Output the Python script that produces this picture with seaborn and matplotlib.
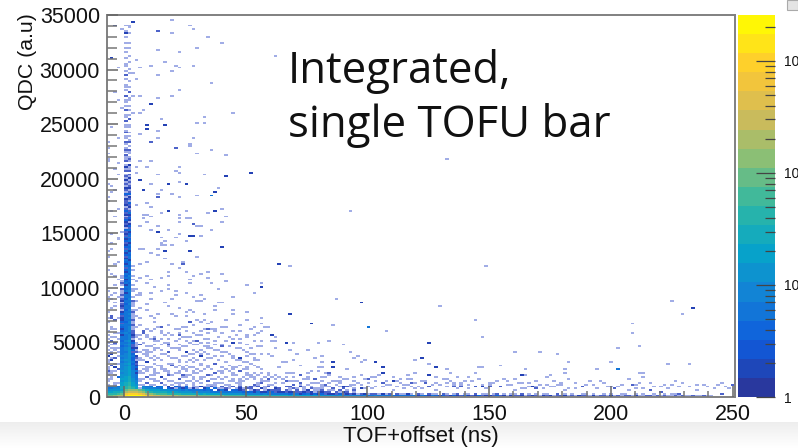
import numpy as np
import seaborn as sns
import matplotlib.pyplot as plt
from matplotlib.colors import LinearSegmentedColormap, ListedColormap, LogNorm
from matplotlib.cm import ScalarMappable
from matplotlib.patches import Rectangle
from matplotlib.ticker import MultipleLocator, NullFormatter

XLABEL = "TOF+offset (ns)"
YLABEL = "QDC (a.u)"
NOTE_1 = "Integrated,"
NOTE_2 = "single TOFU bar"
X_TICKS = [0, 50, 100, 150, 200, 250]
Y_TICKS = [0, 5000, 10000, 15000, 20000, 25000, 30000, 35000]
CB_LABELS = ["1", "10", "10", "10"]

# Peak columns: counts per QDC bin (175 wide, starting at QDC 700), bottom to top
col_m = [30,24,22,18,15,16,12,12,10,11,9,10,8,9,7,8,6,8,7,5,6,7,4,6,5,4,5,6,3,5,4,3,4,5,2,4,3,3,2,4,3,1,2,3,2,1,3,2,1,2,1,1,2,0,1,2,1,0,1,1]
col_a = [45,38,30,26,22,18,16,14,13,15,11,12,10,11,9,12,8,9,10,7,9,8,7,8,
         7,8,6,7,5,8,6,7,5,6,7,4,6,5,7,5,6,4,5,6,4,7,5,4,6,5,3,5,4,
         5,3,6,4,3,5,4,6,3,4,2,5,3,4,5,3,2,4,3,5,2,4,3,2,4,3,5,2,
         3,2,4,1,3,2,3,4,2,1,3,2,4,2,1,3,2,2,3,1,2,4,1,2,3,1,2,1,3,
         1,2,1,0,2,1,3,1,0,2,1,1,2,0,1,2,1,0,1,2,0,1,1,0,2,1,0,1,
         1,0,2,0,1,1,0,0,2,0,1,0,1,1,0,2,0,0,1,0,1,1,0,0,1,0,2,0,1,0,0,1,1,0,0,1,0,0,1,0,1,0,0,1,0,0,1,0,0,1,0,0,1,0,0,0,0]
col_b = [70,56,44,36,30,26,24,20,22,18,19,16,15,17,14,13,15,12,13,11,12,13,10,11,
         9,11,8,10,9,7,10,8,9,7,8,10,6,8,7,9,6,8,7,5,8,6,7,8,5,7,6,8,5,
         7,6,4,7,5,6,8,4,6,5,7,4,5,6,3,6,5,4,7,3,5,4,6,3,5,4,2,5,
         4,3,5,2,4,3,1,3,4,2,3,5,2,1,3,2,4,1,2,3,1,4,2,1,3,2,1,2,
         1,3,1,2,0,2,1,1,3,0,1,2,1,0,1,1,2,0,1,0,2,1,0,1,0,1,0,
         0,1,1,0,0,2,0,1,0,0,1,0,1,0,0,1,1,0,0,2,0,0,1,0,0,1,0,0,0,1,0,1,0,0,0,1,0,0,1,0,0,0,1,0,0,1,0,0,0,0,1,0,0,0,1,0,0]
col_c = [40,30,22,17,13,11,10,9,7,8,6,5,6,4,5,3,4,5,3,2,4,3,1,2,3,2,1,2,3,1,2,1,1,2,0,1,2,1,1,0,2,1,0,1,1,0,1,0,1,0,0,1,1,0,1,0,0,1,0,1]
col_d = [22,16,12,9,7,6,5,4,3,4,3,2,3,2,2,1,2,1,0,2,1,1,0,1]

# Bottom QDC rows: counts per TOF bin (1.466 ns wide, starting at -7.33 ns)
row_0 = [90,110,130,170,240,1500,2200,2500,2400,2100,1500,800,420,300,260,230,210,190,180,170,150,160,140,130,120,130,110,100,110,95,90,85,80,72,70,65,62,55,52,48,50,44,40,38,35,36,30,28,30,26,24,22,24,20,18,19,16,15,16,14,13,12,14,11,10,11,9,10,8,
         9,8,7,8,6,7,8,6,5,7,6,5,4,6,5,4,5,6,3,5,4,3,5,4,3,4,2,3,4,3,2,4,3,2,3,4,2,3,3,2,4,2,3,1,3,2,2,3,1,2,3,2,1,3,2,3,1,2,2,3,1,2,1,3,2,2,1,3,1,2,2,1,3,1,2,1,2,2,1,3,1,1,2,2,1,2,1,2,1,1,2,1,2,1,1,2,1,1,2,1,1]
row_1 = [35,40,48,60,85,600,1000,1100,950,750,480,240,120,85,70,60,55,46,44,38,36,32,34,28,26,24,22,24,20,19,16,18,15,14,13,14,11,12,10,9,10,8,9,7,8,6,7,5,6,7,5,4,6,5,3,4,5,3,4,3,4,2,3,3,2,4,2,3,2,
         3,1,2,3,1,2,2,1,3,1,2,0,2,1,1,3,1,0,2,1,0,2,1,1,0,2,1,0,1,2,0,1,1,0,2,0,1,1,0,1,2,0,1,0,1,1,0,2,0,1,0,1,0,1,1,0,0,2,0,1,0,1,0,0,1,1,0,1,0,0,1,0,1,0,0,1,1,0,0,1,0,1,0,0,1,0,0,1,0,1,1]
row_2 = [18,20,24,30,36,190,320,340,280,210,130,70,40,34,30,26,24,20,18,16,15,12,13,11,10,9,10,8,9,7,6,7,6,6,6,5,5,5,4,4,4,3,5,3,3,4,4,2,3,3,2,3,3,2,2,3,2,3,1,2,3,2,2,0,2,1,3,2,0,1]
row_3 = [9,12,14,15,20,90,140,160,130,95,60,34,22,20,16,14,12,11,9,10,8,7,8,6,6,5,6,4,5,4,0,3,5,3,0,4,3,3,2,0,1,3,2,0,1,3,2,1,2,0,2,1,0,2,0,1,2,0,1,1,2,0,1,1,0,2,0,1,0,1]
row_4 = [6,7,9,8,0,0,0,0,0,0,12,9,8,7,6,5,0,4,3,0,5,3,4,0,3,1,0,3,5,0,3,1,0,2,1,0,1,3,0,1,2,0,0,2,1,0,0,2,1,0,0,1,2,0,0,1,0,2,0,0,1,0,0,1,0,0,2,0,0,1]
row_5 = [4,6,5,7,0,0,0,0,0,0,8,6,5,0,3,4,0,2,0,4,2,0,3,0,1,0,2,0,1,2,0,0,1,0,1,0,0,2,0,0,1,0,2,0,0,1,0,1,0,0,0,1,0,0,2,0,0,1,0,0,1,0,0,0,0,1,0,0,1,0]

# Isolated cells by QDC row: TOF values that fall in that row (single counts)
band_qdc = [12090,11635,11270,10870,10500,10170,9745,9410,9130,8890,8585,8190,7820,7520,7210,6850,
            6450,6270,6080,5900,5720,5530,5350,5170,4990,4800,4620,4440,4250,4070,3890,3700,3520,3340,
            3160,2970,2790,2610,2430,2240,2060,1880,1690,1510,1330,1140,960,780]
band_tof = [
 [-3.7,-2.3,3.2,5.9,8.9,20.3,24.4],
 [3.9,22.1,25.8,-6.4],
 [-5,17.6,19,31.3,34,39.8],
 [5.9,8.9,10.7,15.5,28.6,34,-3.7],
 [4.5,27.2,35.4,41.6,-2.3],
 [-3.7,9.3,12.8,17.6,27.2,51.2,56.7],
 [-6.4,4.5,5.9,15.8,19,21.7,38.2,53.9],
 [-5,-3.7,-2.3,5.9,10.7,21.7,25.8,44.3],
 [-6.4,4.5,20.3,29.2,32],
 [-6.4,-5,3.2,4.5,10.7,31.3,33.4,40.2],
 [-3.7,3.9,9.3,16.2,29.9,39.5],
 [-5,-3.7,4.5,6.6,19,23,37,45],
 [-6.4,8.9,14.1,25.1,26.5,27.9,36.8,45,51.2],
 [-5,3.9,6.6,10.7,20.3,21.7,32.6],
 [-6.4,-5,-3.7,-2.3,4.5,12.8,25.1,41.6,56.7],
 [-6.4,-3.7,3.9,12,30,31.3,32.6,34,35.4,51.2],
 [-5,6,9,14,18,24,28,38,42,48,54],
 [-3.7,5,11,21,26,33,40,47,52],
 [-6.4,-5,4.2,7.5,13,16,23,29,31,36,44],
 [-2.3,8.5,10,19,25,34,37.5,50],
 [-6.4,-3.7,4.5,6,15,17.5,22,27,32,41,46,55],
 [-5,5.3,11.5,13,20,24,30,35,43,53],
 [-6.4,-3.7,3.6,7,9,18,26,28,33,39,48,51],
 [-5,-2.3,4.8,12,16,21,23,31,37,44,56],
 [-6.4,-5,6,8,14,19,25,29,35,42,47,54],
 [-3.7,3.9,10,13,17,22,27,34,38,45,50],
 [-6.4,-5,-2.3,5,7,11,15,20,24,30,33,40,52],
 [-3.7,4.2,9,12.5,18,23,26,31,36,43,48,55],
 [-6.4,-5,6.5,8,14,16,21,25,28,34,39,46,51],
 [-5,-3.7,4,10,13,19,22,27,30,37,42,49,54],
 [-6.4,-2.3,5,7.5,11,15,18,24,29,33,35,41,45,52],
 [-6.4,-5,-3.7,4.5,9,12.5,17,20,26,31,38,43,47,50,56],
 [-5,-2.3,3.8,6,10,14,19,23,28,32,36,40,46,53],
 [-6.4,-3.7,5,8,11.5,16,21,25,30,34,39,44,49,55],
 [-6.4,-5,-2.3,4.2,7,9.5,13,18,22,27,29,33,37,42,48,51,54],
 [-5,-3.7,5.5,8.5,12,15,20,24,26,31,35,38,45,47,52],
 [-6.4,-5,-2.3,4.5,6.5,10,14,17,21,23,28,32,36,41,43,50,53,56],
 [-6.4,-3.7,5,7.5,11,13,16,19,25,27,30,34,39,44,46,49,55],
 [-5,-2.3,4,6,9,12,15,18,22,24,29,33,37,40,42,47,51,54],
 [-6.4,-3.7,5.5,8,10,13,17,20,23,26,28,31,35,38,43,45,48,52,56],
 [-6.4,-5,-2.3,4.5,7,11,14,16,19,21,25,30,32,36,41,44,50,53,55,59,62,66,70,73,85],
 [-5,-3.7,6,9,12,15,18,22,24,27,29,34,37,39,46,49,51,54,58,60,64,72,78,81,84,88,97,99,102,105,110,116,118],
 [-6.4,-2.3,5,8,10,13,16,20,23,26,31,33,35,40,42,47,52,56,57,61,65,67,71,74,76,79,83,86,90,94,101,104,108,113,128,133,137,143,156,174],
 [-6.4,-5,4.5,6.5,11,14,17,21,25,28,30,36,38,43,45,48,50,55,58,62,69,75,80,87,92,95,100,107,112,117,122,131,136,140,146,153,160,166,176,182,192,208],
 [-3.7,5.5,7.5,9,12,15,19,22,24,27,32,34,37,41,44,46,49,53,56,60,63,68,70,77,82,85,89,93,96,103,106,111,115,119,124,129,134,142,150,157,162,169,178,186,195,212,226,236,245],
 [-6.4,-2.3,5,6.5,10,13,16,18,20,23,26,29,33,35,39,42,47,51,54,57,59,65,67,72,78,81,88,91,98,101,109,114,121,127,132,135,139,144,148,152,159,164,168,173,180,190,197,203,210,216,222,230,240,244],
 [-5,-3.7,4.5,8,11,14,17,21,25,28,31,36,38,40,43,45,48,50,52,55,58,61,64,66,70,74,76,80,84,87,92,95,99,104,108,112,117,120,125,130,133,138,141,147,151,155,158,163,167,171,175,179,183,188,193,199,205,214,220,225,232,238,248],
 [-6.4,-5,6,7,9,12,15,19,22,24,27,30,32,34,37,41,44,46,49,53,56,60,62,63,68,71,73,75,79,83,86,90,94,97,100,102,106,110,115,118,123,126,128,137,145,149,154,161,165,170,172,177,181,185,189,194,200,207,211,218,224,228,235,242,247],
]
# The QDC bin each listed cell sits in, relative to its row (read as a repeating offset)
row_offsets = [0, 175, -175, 0, 175]

# Sparse cells well above the bottom rows (single counts)
far_tof = [3.3,-3.7,-1,2,0.4,13.2,14.5,20.2,27.2,28.5,20.2,34.1,39.8,14.5,23,29.9,62.4,-5.1,4.7,17.4,6.2,10.4,21.5,23,28.5,-2.2,3.4,20.2,14.5,4.7,35.5,23,-3.7,3.4,6.2,20.2,14.5,-2.2,10.4,7.5,-1,3.4,6.2,44,32.8,15.9,8.9,8.9,17.4,29.9,32.8,-5.1,13.2,6.2,-2.2,14.5,28.5,10.4,27.2,21.5,
           10.4,21.5,27.2,29.9,35.5,42.5,6.2,11.7,4.8,8.9,22.9,21.5,22.9,4.8,14.6,32.8,41.3,52.6,6.2,22.9,11.7,18.8,25.7,38.4,7.6,16,13.2,37,20.2,29.9,35.5,14.6,13.2,22.9,8.9,4.8,11.7,39.8,25.7,16,18.8,37,34.2,7.6,8.9,22.9,10.4,22.9,25.7,26.8,41.3,7.6,8.9,22.9,28.6,28.6,39.8,6.2,13.2,29.9,31.3,11.7,13.2,18.8,35.5,22.9,21.5,26.5,27.9,31.3,16,25.7,16,17.4,16,17.4,20.2,39.8,6.2,7.6,13.2,17.4,27.2,10.4,14.6,29.9,17.4,
           -6.4,-6.4,-6.4,-6.4,-6.4,-2.3,-3.7,-2.3,-6.4,-5.1,-3.7,-5.1,-6.4,-6.4,-2.3,-5.1,-3.7,-0.9,-2.3,-2.3,-5.1,-5.1,-5.1,-6.4,-6.4,
           132,93,63.8,67.9,56.7,87.5,97.4,67.9,76.3,56.7,86.2,58,59.4,56.7,100.3,107.3,60.9,62.3,60.9,62.3,66.6,69.3,79.2,84.8,90.4,56.7,62.3,67.9,74.9,93.2,59.4,70.7,60.9,81.9,95.9,94.5,77.7,69.3,66.6,98.8,103,97.4,81.9,86.2,65,72.2,63.7,86.2,79.2,81.9,76.3,79.2,91.8,105.9,105.9,119.8,119.8,84.8,83.3,67.9,69.3,74.9,
           149.2,129.6,143.7,125.5,147.9,160.5,170.4,178.7,183,122.6,125.5,128.4,132.5,146.5,147.9,154.9,164.6,181.6,133.9,125.5,145.1,141,163.2,164.6,174.6,181.6,
           225.1,233.7,229.4,208.3,208.3,212.5,202.8,199.9,223.9,232.3,194.3,202.8,211.2,213.9,213.9]
far_qdc = [34440,34080,33770,33830,33315,33560,33440,34530,33990,33770,33410,33070,32490,31790,31610,31940,31270,31120,30940,30660,30270,30360,30360,30170,30360,30170,29650,29780,29410,29100,28830,28130,27980,27580,27580,27640,27430,27210,26820,26360,26450,26060,26060,25900,25630,25540,24990,24620,24990,25080,25140,24740,24400,24070,23680,23680,23770,23340,23100,22920,
           23330,22870,23080,22350,22620,22170,21590,21530,21070,21130,21130,20700,20520,20520,20310,20310,20220,20610,19880,19760,19575,19510,19510,19240,18900,18930,18720,18780,18600,18510,18480,18290,18230,18290,17780,17530,17410,17230,17100,16920,16980,16980,16830,16770,16710,16710,16530,16430,16430,16430,16460,16280,16070,15950,15920,15760,16000,15700,15700,15580,15580,15300,15150,15300,15370,14940,14660,14790,14790,14700,14540,14240,14090,14180,13840,13840,13840,13690,13540,13540,13540,13320,13320,13170,13110,12800,12620,
           23330,22770,22320,21770,21560,21470,20860,20310,19575,19330,18960,18810,18200,17990,17200,16980,16620,15060,14630,14450,14910,14020,13630,13420,12870,
           21700,17040,12210,12000,10050,9070,8620,7640,6820,6720,6540,6390,6330,6110,6420,6110,5690,5470,5200,5140,4990,4900,4900,5140,4830,4560,4440,4220,4320,4070,3920,4010,3770,3800,3770,3610,3520,3400,3310,3430,3310,3160,3250,3160,3160,2970,2700,2790,2790,2700,2420,2420,2520,2790,2210,3400,2180,2180,2240,2180,2180,2180,
           11940,8310,7060,4990,5470,4130,4130,3950,3250,3520,3000,2790,2610,2730,2670,2970,2610,2550,2240,2060,2150,1910,2060,2060,1940,2180,
           8770,8220,7580,6660,5840,4710,4440,3250,3060,3000,2610,2610,2120,2180,1780]

# Cells with an extra count or two (the darker marks)
dark_tof = [-3.7,0.4,3.3,-5.1,10.4,8.9,8.9,17.4,41.3,52.6,6.2,18.8,25.7,7.6,37,35.5,35.5,18.8,37,26.5,27.9,13.2,39.8,17.4,27.2,56.7,63.8,67.9,76.3,97.4,100.3,100.3,60.9,66.6,103,86.2,86.2,105.9,105.9,233.7,202.8,202.8,208.3,125.5,125.5,128.4,122.6,124,138,150.6,167.6,163.2,24.4,-5,27,15,35,8,22,12,30,44,18,40,5,25,32,47,10,20,-3.7,-5,-6.4,-5,-3.7,-6.4,-2.3,24,60,66,72,83,90,97,110,118,135,148,170,201,216,221,228,246,250.5]
dark_qdc = [34080,33315,34440,31120,26820,24990,24620,24990,20220,20610,19880,19510,19510,18900,18780,18480,18480,16980,16980,14790,14790,15150,13690,13320,13320,10050,12210,7640,6820,8620,6420,6420,5690,4990,3310,3160,2790,2790,2210,8220,2610,2610,1140,4990,2060,2790,3520,1360,960,960,960,2060,12090,7210,6850,6450,6270,5900,5720,5350,5170,4990,4800,4620,4440,4070,3700,3520,3160,2970,4990,3890,3700,3340,2790,2430,1880,2060,1690,1510,1330,1140,960,780,1510,1330,960,960,780,780,600,420,240,240,1050,1050]

BIN_EDGES_X = (-7.33, 250.69)
N_X, N_Y = 176, 200
QW, TW = 175.0, 258.02 / 176

tof, qdc, cnt = [], [], []
def add(xs, ys, ws):
    tof.extend(xs); qdc.extend(ys); cnt.extend(ws)

for bin_center, col in zip([-TW/2, TW/2, 3*TW/2, 5*TW/2, 7*TW/2], [col_m, col_a, col_b, col_c, col_d]):
    add([bin_center]*len(col), [700 + QW*(i+0.5) for i in range(len(col))], col)
for k, row in enumerate([row_0, row_1, row_2, row_3, row_4, row_5]):
    add([BIN_EDGES_X[0] + TW*(i+0.5) for i in range(len(row))], [QW*(k+0.5)]*len(row), row)
for q, xs in zip(band_qdc, band_tof):
    ys = [q + row_offsets[i % len(row_offsets)] for i in range(len(xs))]
    add(xs, ys, [1]*len(xs))
n = min(len(far_tof), len(far_qdc))
add(far_tof[:n], far_qdc[:n], [1]*n)
n = min(len(dark_tof), len(dark_qdc))
add(dark_tof[:n], dark_qdc[:n], [2]*n)

# ROOT "bird" palette in 20 discrete levels
bird_stops = [(0.16,0.22,0.62),(0.0592,0.3599,0.8684),(0.0780,0.5041,0.8385),(0.0232,0.6419,0.7914),
              (0.1802,0.7178,0.6425),(0.5301,0.7492,0.4662),(0.8186,0.7328,0.3499),(0.9956,0.7862,0.1968),(1.0,0.97,0.02)]
bird = LinearSegmentedColormap.from_list("bird", bird_stops, N=20)
levels = bird(np.linspace(0, 1, 20))
cbar_cmap = ListedColormap(levels)
mesh_levels = levels.copy()
mesh_levels[0] = (0.63, 0.68, 0.90, 1)
mesh_levels[1] = (0.30, 0.39, 0.79, 1)
mesh_levels[2] = (0.14, 0.26, 0.71, 1)
mesh_cmap = ListedColormap(mesh_levels)
norm = LogNorm(1, 2570)

sns.set_theme(style="white")
plt.rcParams["font.family"] = ["Liberation Sans", "DejaVu Sans"]
W, H = 798, 448
fig = plt.figure(figsize=(W/100, H/100), dpi=100)

bg = fig.add_axes([0, 0, 1, 26/H], zorder=-1)
bg.imshow(np.linspace(1, 0, 30).reshape(-1, 1), aspect="auto", cmap=LinearSegmentedColormap.from_list("g", ["#ffffff", "#ededed"]), vmin=0, vmax=1)
bg.axis("off")

ax = fig.add_axes([107/W, 1-397/H, 628/W, 382/H])
ax.patch.set_alpha(0)
sns.histplot(x=tof, y=qdc, weights=cnt, bins=(N_X, N_Y), binrange=(BIN_EDGES_X, (0, 35000)), cmap=mesh_cmap, ax=ax)
mesh = ax.collections[0]
mesh.set_norm(norm)
mesh.set_cmap(mesh_cmap)

GRAY = "#808080"
ax.set_axisbelow(False)
ax.set_xlim(-7, 251)
ax.set_ylim(0, 35000)
ax.set_xticks(X_TICKS)
ax.set_yticks(Y_TICKS)
ax.xaxis.set_minor_locator(MultipleLocator(10))
ax.yaxis.set_minor_locator(MultipleLocator(1000))
ax.xaxis.set_minor_formatter(NullFormatter())
ax.yaxis.set_minor_formatter(NullFormatter())
ax.tick_params(which="major", direction="in", color="#666666", width=1.1, labelsize=15.5, labelcolor="#111111", bottom=True, left=True, length=8, pad=5)
ax.tick_params(which="minor", direction="in", color="#777777", width=1.1, bottom=True, left=True, length=4.5)
ax.tick_params(axis="y", which="minor", length=7)
for s in ax.spines.values():
    s.set_color(GRAY); s.set_linewidth(1.4); s.set_visible(True)
ax.set_xlabel(XLABEL, fontsize=16, color="#111111")
ax.set_ylabel(YLABEL, fontsize=15.3, color="#111111")
ax.xaxis.set_label_coords((421-107)/628, -(426-397)/382)
ax.yaxis.set_label_coords((37-107)/628, (397-62)/382)

fig.text(288/W, 1-83/H, NOTE_1, fontsize=31.5, family=["Open Sans", "DejaVu Sans"], color="#111111", va="baseline")
fig.text(288/W, 1-137/H, NOTE_2, fontsize=31.5, family=["Open Sans", "DejaVu Sans"], color="#111111", va="baseline")

cax = fig.add_axes([738/W, 1-397/H, 37/W, 382/H])
cb = fig.colorbar(ScalarMappable(norm=norm, cmap=cbar_cmap), cax=cax)
cb.outline.set_visible(False)
cax.set_axisbelow(False)
cax.set_yscale("log")
cax.set_ylim(1, 2570)
cax.yaxis.set_major_locator(plt.FixedLocator([1, 10, 100, 1000]))
cax.yaxis.set_minor_locator(plt.FixedLocator([m*d for d in (1, 10, 100, 1000) for m in range(2, 10) if m*d < 2570]))
cax.yaxis.set_minor_formatter(NullFormatter())
cax.yaxis.set_major_formatter(plt.FixedFormatter(CB_LABELS))
cax.tick_params(which="major", direction="in", right=True, left=False, length=13.7, width=0.9, color="#444444", labelsize=10, pad=6.5, labelcolor="#111111")
cax.tick_params(which="minor", direction="in", right=True, left=False, length=7, width=0.9, color="#444444")

fig.add_artist(Rectangle((787/W, 1-10/H), 11/W, 10/H, transform=fig.transFigure, facecolor="#e4e4e4", edgecolor="#aaaaaa", linewidth=0.8))

fig.savefig("out.png", dpi=100)
